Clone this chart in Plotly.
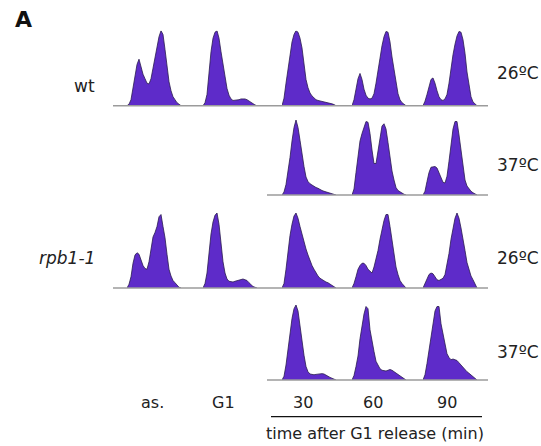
import plotly.graph_objects as go

W, H = 541, 446

# DNA-content bins (flow cytometry channel index)
bins = list(range(28))

columns = ["as.", "G1", "30", "60", "90"]
row_strains = ["wt", "", "rpb1-1", ""]
row_temps = ["26ºC", "37ºC", "26ºC", "37ºC"]

# ---- wt, 26ºC ----
wt26_as = [0, 0.02, 0.08, 0.23, 0.40, 0.55, 0.62, 0.50, 0.42, 0.36, 0.30, 0.29, 0.36, 0.50,
           0.65, 0.80, 0.92, 1.00, 0.95, 0.75, 0.50, 0.32, 0.20, 0.12, 0.08, 0.04, 0.02, 0]
wt26_g1 = [0, 0.04, 0.15, 0.45, 0.72, 0.90, 0.98, 1.00, 0.90, 0.72, 0.54, 0.36, 0.23, 0.14,
           0.09, 0.07, 0.07, 0.075, 0.08, 0.09, 0.095, 0.09, 0.08, 0.06, 0.04, 0.02, 0.01, 0]
wt26_30 = [0, 0.10, 0.30, 0.50, 0.70, 0.85, 0.95, 1.00, 0.98, 0.90, 0.77, 0.55, 0.35, 0.24,
           0.17, 0.13, 0.10, 0.08, 0.07, 0.065, 0.06, 0.055, 0.045, 0.04, 0.035, 0.025, 0.015, 0]
wt26_60 = [0, 0.08, 0.22, 0.36, 0.43, 0.35, 0.22, 0.14, 0.10, 0.09, 0.10, 0.16, 0.30, 0.48,
           0.65, 0.80, 0.92, 0.99, 0.98, 0.85, 0.65, 0.50, 0.30, 0.16, 0.08, 0.04, 0.02, 0]
wt26_90 = [0, 0.06, 0.15, 0.27, 0.35, 0.37, 0.30, 0.20, 0.12, 0.08, 0.07, 0.09, 0.15, 0.30,
           0.50, 0.68, 0.82, 0.93, 0.99, 0.98, 0.88, 0.70, 0.45, 0.25, 0.12, 0.05, 0.02, 0]

# ---- wt, 37ºC ----
wt37_30 = [0, 0.04, 0.14, 0.30, 0.50, 0.72, 0.90, 1.00, 0.90, 0.73, 0.52, 0.38, 0.24, 0.18,
           0.15, 0.13, 0.12, 0.10, 0.09, 0.07, 0.06, 0.05, 0.04, 0.035, 0.03, 0.02, 0.01, 0]
wt37_60 = [0, 0.08, 0.30, 0.50, 0.72, 0.82, 0.90, 0.98, 0.97, 0.82, 0.60, 0.42, 0.42, 0.60,
           0.80, 0.92, 0.95, 0.88, 0.70, 0.50, 0.32, 0.20, 0.10, 0.06, 0.04, 0.02, 0.01, 0]
wt37_90 = [0, 0.05, 0.18, 0.30, 0.37, 0.38, 0.38, 0.36, 0.30, 0.22, 0.17, 0.16, 0.25, 0.45,
           0.68, 0.88, 0.98, 0.98, 0.80, 0.58, 0.38, 0.20, 0.12, 0.08, 0.05, 0.03, 0.015, 0]

# ---- rpb1-1, 26ºC ----
rp26_as = [0, 0.05, 0.15, 0.33, 0.44, 0.47, 0.45, 0.38, 0.30, 0.26, 0.25, 0.35, 0.55, 0.68,
           0.74, 0.82, 0.95, 0.98, 0.82, 0.67, 0.45, 0.25, 0.16, 0.10, 0.07, 0.04, 0.01, 0]
rp26_g1 = [0, 0.06, 0.20, 0.48, 0.72, 0.88, 0.97, 1.00, 0.85, 0.60, 0.35, 0.20, 0.12, 0.09,
           0.08, 0.08, 0.09, 0.10, 0.11, 0.12, 0.12, 0.11, 0.10, 0.07, 0.04, 0.02, 0.01, 0]
rp26_30 = [0, 0.06, 0.25, 0.50, 0.70, 0.85, 0.96, 1.00, 0.93, 0.82, 0.71, 0.62, 0.52, 0.44,
           0.36, 0.30, 0.25, 0.20, 0.16, 0.13, 0.11, 0.09, 0.08, 0.07, 0.05, 0.04, 0.02, 0]
rp26_60 = [0, 0.06, 0.15, 0.25, 0.30, 0.33, 0.33, 0.30, 0.25, 0.22, 0.20, 0.28, 0.38, 0.50,
           0.65, 0.78, 0.90, 0.98, 0.98, 0.82, 0.62, 0.45, 0.28, 0.18, 0.10, 0.06, 0.03, 0]
rp26_90 = [0, 0.05, 0.12, 0.18, 0.20, 0.19, 0.14, 0.11, 0.10, 0.11, 0.13, 0.18, 0.30, 0.46,
           0.65, 0.80, 0.93, 1.00, 0.93, 0.80, 0.67, 0.50, 0.34, 0.24, 0.16, 0.11, 0.05, 0]

# ---- rpb1-1, 37ºC ----
rp37_30 = [0, 0.05, 0.20, 0.42, 0.65, 0.82, 0.95, 1.00, 0.92, 0.72, 0.50, 0.33, 0.18, 0.11,
           0.08, 0.07, 0.07, 0.075, 0.08, 0.085, 0.085, 0.08, 0.07, 0.05, 0.035, 0.02, 0.01, 0]
rp37_60 = [0, 0.06, 0.18, 0.32, 0.55, 0.72, 0.88, 0.98, 0.95, 0.67, 0.50, 0.38, 0.25, 0.19,
           0.15, 0.13, 0.12, 0.12, 0.13, 0.14, 0.13, 0.11, 0.09, 0.08, 0.06, 0.04, 0.02, 0]
rp37_90 = [0, 0.07, 0.22, 0.40, 0.60, 0.78, 0.92, 0.98, 0.98, 0.75, 0.60, 0.45, 0.35, 0.30,
           0.27, 0.28, 0.27, 0.26, 0.23, 0.20, 0.16, 0.13, 0.11, 0.09, 0.07, 0.04, 0.02, 0]

grid = [
    [wt26_as, wt26_g1, wt26_30, wt26_60, wt26_90],
    [None, None, wt37_30, wt37_60, wt37_90],
    [rp26_as, rp26_g1, rp26_30, rp26_60, rp26_90],
    [None, None, rp37_30, rp37_60, rp37_90],
]

# layout geometry (pixels)
col_left = [127, 203, 282, 352, 423]
col_w = 55
row_base = [105.7, 195, 288, 380]
row_h = 75
label_x = [152, 223, 303, 373, 447]

FILL = "#5e2bc9"
EDGE = "#2a1c4e"
FONT = "DejaVu Sans"

fig = go.Figure()
layout_axes = {}
k = 0
for r in range(4):
    for c in range(5):
        data = grid[r][c]
        if data is None:
            continue
        k += 1
        xa = "x" if k == 1 else f"x{k}"
        ya = "y" if k == 1 else f"y{k}"
        fig.add_trace(go.Scatter(
            x=bins, y=data, xaxis=xa, yaxis=ya, mode="lines",
            fill="tozeroy", fillcolor=FILL,
            line=dict(color=EDGE, width=0.8), hoverinfo="skip", showlegend=False))
        x0 = col_left[c] / W
        x1 = (col_left[c] + col_w) / W
        y0 = 1 - row_base[r] / H
        y1 = 1 - (row_base[r] - row_h) / H
        key = "" if k == 1 else str(k)
        layout_axes["xaxis" + key] = dict(domain=[x0, x1], range=[0, 27.5], visible=False,
                                          anchor=ya)
        layout_axes["yaxis" + key] = dict(domain=[y0, y1], range=[0, 1.0], visible=False,
                                          anchor=xa)

shapes = []
# baselines
for r in range(4):
    left = 113 if r in (0, 2) else 267
    yb = 1 - row_base[r] / H
    shapes.append(dict(type="line", xref="paper", yref="paper", x0=left / W, x1=488 / W,
                       y0=yb, y1=yb, line=dict(color="#9b9b9b", width=1.5), layer="above"))
# bracket under time points
shapes.append(dict(type="line", xref="paper", yref="paper", x0=271 / W, x1=482 / W,
                   y0=1 - 416.7 / H, y1=1 - 416.7 / H, line=dict(color="#111", width=1.3)))

ann = []
ann.append(dict(text="<b>A</b>", x=13 / W, y=1 - 19 / H, xref="paper", yref="paper",
                xanchor="left", yanchor="middle", showarrow=False,
                font=dict(family=FONT, size=22, color="#111")))
label_y = [86, None, 258, None]
for r in range(4):
    if row_strains[r]:
        txt = row_strains[r] if r == 0 else f"<i>{row_strains[r]}</i>"
        ann.append(dict(text=txt, x=97 / W, y=1 - label_y[r] / H, xref="paper", yref="paper",
                        xanchor="right", yanchor="middle", showarrow=False,
                        font=dict(family=FONT, size=17, color="#222")))
temp_y = [73, 165, 258, 352]
for r in range(4):
    ann.append(dict(text=row_temps[r], x=495 / W, y=1 - temp_y[r] / H, xref="paper",
                    yref="paper", xanchor="left", yanchor="middle", showarrow=False,
                    font=dict(family=FONT, size=17, color="#222")))
for c in range(5):
    ann.append(dict(text=columns[c], x=label_x[c] / W, y=1 - 402 / H, xref="paper",
                    yref="paper", xanchor="center", yanchor="middle", showarrow=False,
                    font=dict(family=FONT, size=16, color="#222")))
ann.append(dict(text="time after G1 release (min)", x=375 / W, y=1 - 433 / H, xref="paper",
                yref="paper", xanchor="center", yanchor="middle", showarrow=False,
                font=dict(family=FONT, size=16, color="#222")))

fig.update_layout(width=W, height=H, margin=dict(l=0, r=0, t=0, b=0),
                  paper_bgcolor="white", plot_bgcolor="rgba(0,0,0,0)",
                  shapes=shapes, annotations=ann, **layout_axes)

fig.write_html("out.html", config={"displayModeBar": False})
